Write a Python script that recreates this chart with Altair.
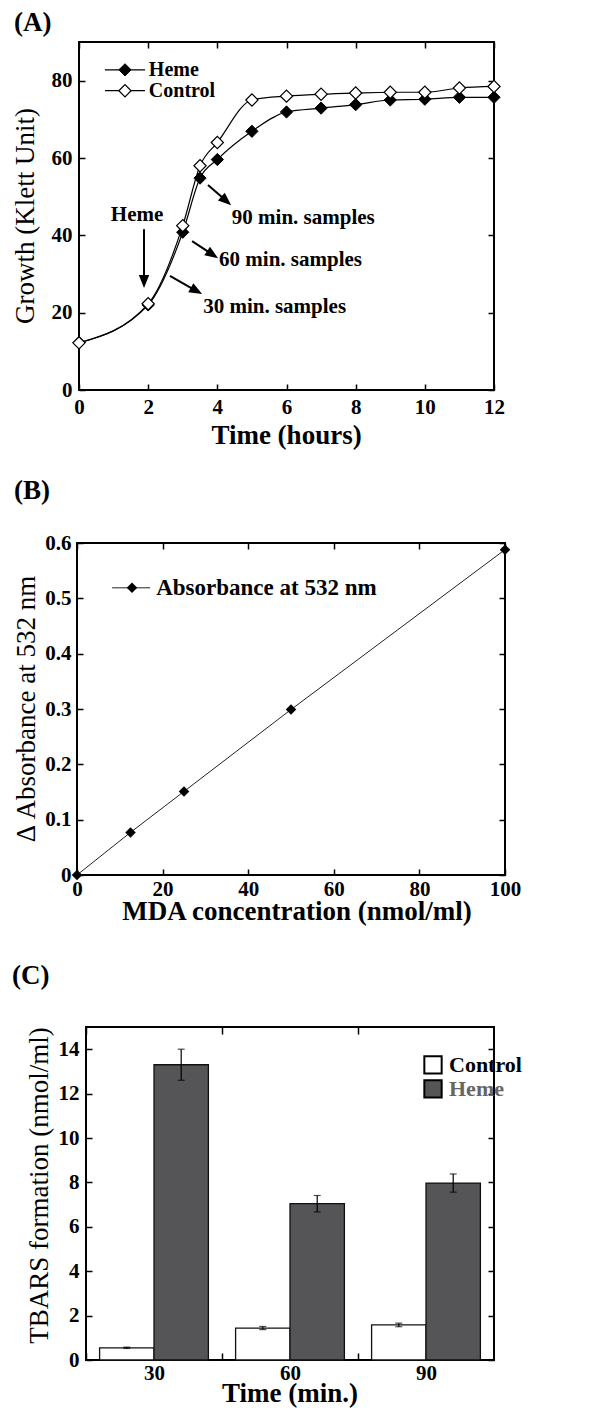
import math
import altair as alt
import pandas as pd

FONT = "Liberation Serif"

# ---------------- Panel A data ----------------
hours = [0, 2, 3, 3.5, 4, 5, 6, 7, 8, 9, 10, 11, 12]
heme_growth = [12.2, 22.0, 40.8, 54.8, 59.6, 66.9, 71.9, 72.9, 73.8, 75.0, 75.2, 75.7, 75.7]
control_growth = [12.2, 22.3, 42.5, 58.0, 64.0, 75.0, 76.0, 76.5, 76.8, 77.0, 77.0, 78.1, 78.5]
series_names = ["Heme", "Control"]
hour_ticks = [0, 2, 4, 6, 8, 10, 12]
growth_ticks = [0, 20, 40, 60, 80]

# annotations (data coordinates)
note_text = ["Heme", "90 min. samples", "60 min. samples", "30 min. samples"]
note_x = [1.68, 4.42, 4.05, 3.59]
note_y = [45.3, 44.5, 33.6, 21.5]
arrow_x1 = [1.88, 3.73, 3.27, 2.63]
arrow_y1 = [41.6, 53.0, 38.5, 29.5]
arrow_x2 = [1.88, 4.40, 4.02, 3.56]
arrow_y2 = [26.4, 47.8, 34.1, 24.8]
legendA_y = [82.8, 77.4]
legendA_line = [0.75, 1.91]
legendA_marker = 1.33
legendA_text = 2.02

# ---------------- Panel B data ----------------
mda_conc = [0, 12.5, 25, 50, 100]
absorbance_532 = [0.0, 0.077, 0.151, 0.299, 0.588]
mda_ticks = [0, 20, 40, 60, 80, 100]
abs_ticks = [0, 0.1, 0.2, 0.3, 0.4, 0.5, 0.6]
legendB_label = ["Absorbance at 532 nm"]
legendB_y = 0.519
legendB_line = [8.2, 17.1]
legendB_marker = 12.85
legendB_text = 18.5

# ---------------- Panel C data ----------------
time_min = ["30", "60", "90"]
groups = ["Control", "Heme"]
tbars_control = [0.55, 1.44, 1.58]
tbars_control_err = [0.03, 0.07, 0.08]
tbars_heme = [13.3, 7.04, 7.97]
tbars_heme_err = [0.70, 0.37, 0.41]
tbars_ticks = [0, 2, 4, 6, 8, 10, 12, 14]
legendC_y = [13.29, 12.21]

WA, HA = 415, 348
WB, HB = 428, 332
WC, HC = 408, 333
TICK = 6


def ax(**kw):
    base = dict(labelFont=FONT, labelFontSize=21, labelFontWeight="bold", labelColor="black",
                tickColor="black", tickWidth=1.5, tickSize=TICK, offset=-TICK, domain=False, grid=False,
                labelFlush=False, labelOverlap=False, title=None)
    base.update(kw)
    return alt.Axis(**base)


def free_text(text, dx, dy, size=27, weight="bold", angle=0, align="left"):
    mk = dict(font=FONT, fontSize=size, fontWeight=weight, align=align, baseline="middle", color="black")
    if angle:
        mk["angle"] = angle
    return alt.Chart(pd.DataFrame({"lab": [text]})).mark_text(**mk).encode(
        x=alt.value(dx), y=alt.value(dy), text="lab:N")


# ================= Panel A =================
n = len(hours)
dfA = pd.DataFrame({
    "hours": hours * 2,
    "growth": heme_growth + control_growth,
    "series": ["Heme"] * n + ["Control"] * n,
})
xA = alt.Scale(domain=[0, 12], nice=False, zero=False)
yA = alt.Scale(domain=[0, 90], nice=False, zero=False)
sxA, syA = WA / 12.0, HA / 90.0

linesA = alt.Chart(dfA).mark_line(interpolate="monotone", color="black", strokeWidth=1.2).encode(
    x=alt.X("hours:Q", scale=xA, axis=ax(orient="bottom", values=hour_ticks, labelPadding=6)),
    y=alt.Y("growth:Q", scale=yA, axis=ax(orient="left", values=growth_ticks, labelPadding=7)),
    detail="series:N",
)
mirrorA = alt.Chart(dfA).mark_point(opacity=0).encode(
    x=alt.X("hours:Q", scale=xA, axis=ax(orient="top", values=hour_ticks, labels=False)),
    y=alt.Y("growth:Q", scale=yA, axis=ax(orient="right", values=growth_ticks, labels=False)),
)
hemePts = alt.Chart(dfA).transform_filter(alt.datum.series == "Heme").mark_point(
    shape="diamond", filled=True, fill="black", stroke="black", strokeWidth=1, size=150, opacity=1
).encode(x=alt.X("hours:Q", scale=xA), y=alt.Y("growth:Q", scale=yA))
ctrlPts = alt.Chart(dfA).transform_filter(alt.datum.series == "Control").mark_point(
    shape="diamond", filled=True, fill="white", stroke="black", strokeWidth=1.2, size=150, opacity=1
).encode(x=alt.X("hours:Q", scale=xA), y=alt.Y("growth:Q", scale=yA))

# legend A
dfLegA = pd.DataFrame({"series": series_names, "ly": legendA_y,
                       "lx1": [legendA_line[0]] * 2, "lx2": [legendA_line[1]] * 2,
                       "lxm": [legendA_marker] * 2, "lxt": [legendA_text] * 2})
legLineA = alt.Chart(dfLegA).mark_rule(color="black", strokeWidth=1.2).encode(
    x=alt.X("lx1:Q", scale=xA), x2="lx2:Q", y=alt.Y("ly:Q", scale=yA))
legPtHeme = alt.Chart(dfLegA).transform_filter(alt.datum.series == "Heme").mark_point(
    shape="diamond", filled=True, fill="black", stroke="black", strokeWidth=1, size=150, opacity=1).encode(
    x=alt.X("lxm:Q", scale=xA), y=alt.Y("ly:Q", scale=yA))
legPtCtrl = alt.Chart(dfLegA).transform_filter(alt.datum.series == "Control").mark_point(
    shape="diamond", filled=True, fill="white", stroke="black", strokeWidth=1.2, size=150, opacity=1).encode(
    x=alt.X("lxm:Q", scale=xA), y=alt.Y("ly:Q", scale=yA))
legTxtA = alt.Chart(dfLegA).mark_text(font=FONT, fontSize=20, fontWeight="bold", align="left",
                                      baseline="middle", color="black").encode(
    x=alt.X("lxt:Q", scale=xA), y=alt.Y("ly:Q", scale=yA), text="series:N")

# arrows A
head_len_px = 13.0
angles, sx2, sy2 = [], [], []
for x1, y1, x2, y2 in zip(arrow_x1, arrow_y1, arrow_x2, arrow_y2):
    dx = (x2 - x1) * sxA
    dy = -(y2 - y1) * syA
    angles.append(math.degrees(math.atan2(-dx, dy)) % 360)
    L = math.hypot(dx, dy)
    f = max(0.0, 1 - (head_len_px * 0.6) / L)
    sx2.append(x1 + (x2 - x1) * f)
    sy2.append(y1 + (y2 - y1) * f)
dfArr = pd.DataFrame({"x1": arrow_x1, "y1": arrow_y1, "x2": arrow_x2, "y2": arrow_y2,
                      "sx2": sx2, "sy2": sy2, "ang": angles})
shaftA = alt.Chart(dfArr).mark_rule(color="black", strokeWidth=2).encode(
    x=alt.X("x1:Q", scale=xA), y=alt.Y("y1:Q", scale=yA), x2="sx2:Q", y2="sy2:Q")
headA = alt.Chart(dfArr).mark_point(shape="M0,0L-0.4,-1L0.4,-1Z", filled=True, color="black", opacity=1,
                                    size=(2 * head_len_px) ** 2).encode(
    x=alt.X("x2:Q", scale=xA), y=alt.Y("y2:Q", scale=yA), angle=alt.Angle("ang:Q", scale=None))
dfNote = pd.DataFrame({"t": note_text, "nx": note_x, "ny": note_y})
noteCenter = alt.Chart(dfNote.iloc[:1]).mark_text(font=FONT, fontSize=21, fontWeight="bold", align="center",
                                                  baseline="middle", color="black").encode(
    x=alt.X("nx:Q", scale=xA), y=alt.Y("ny:Q", scale=yA), text="t:N")
noteLeft = alt.Chart(dfNote.iloc[1:]).mark_text(font=FONT, fontSize=21, fontWeight="bold", align="left",
                                                baseline="middle", color="black").encode(
    x=alt.X("nx:Q", scale=xA), y=alt.Y("ny:Q", scale=yA), text="t:N")

innerA = alt.layer(
    linesA, hemePts, ctrlPts, legLineA, legPtHeme, legPtCtrl, legTxtA, shaftA, headA, noteCenter, noteLeft,
    free_text("(A)", -65, -19),
    free_text("Time (hours)", WA / 2, HA + 46, size=27, align="center"),
    free_text("Growth (Klett Unit)", -53, HA / 2, size=27, weight="normal", angle=270, align="center"),
)
chartA = alt.layer(innerA, mirrorA).properties(width=WA, height=HA)

# ================= Panel B =================
dfB = pd.DataFrame({"mda": mda_conc, "abs": absorbance_532})
xB = alt.Scale(domain=[0, 100], nice=False, zero=False)
yB = alt.Scale(domain=[0, 0.6], nice=False, zero=False)
lineB = alt.Chart(dfB).mark_line(color="#222222", strokeWidth=1).encode(
    x=alt.X("mda:Q", scale=xB, axis=ax(orient="bottom", values=mda_ticks, labelPadding=3)),
    y=alt.Y("abs:Q", scale=yB, axis=ax(orient="left", values=abs_ticks, labelPadding=6,
                                        labelExpr="datum.value == 0 ? '0' : format(datum.value, '.1f')")),
)
mirrorB = alt.Chart(dfB).mark_point(opacity=0).encode(
    x=alt.X("mda:Q", scale=xB, axis=ax(orient="top", values=mda_ticks, labels=False)),
    y=alt.Y("abs:Q", scale=yB, axis=ax(orient="right", values=abs_ticks, labels=False)),
)
ptsB = alt.Chart(dfB).mark_point(shape="diamond", filled=True, color="black", size=110, opacity=1).encode(
    x=alt.X("mda:Q", scale=xB), y=alt.Y("abs:Q", scale=yB))
dfLegB = pd.DataFrame({"lab": legendB_label, "ly": [legendB_y], "lx1": [legendB_line[0]],
                       "lx2": [legendB_line[1]], "lxm": [legendB_marker], "lxt": [legendB_text]})
legLineB = alt.Chart(dfLegB).mark_rule(color="#222222", strokeWidth=1).encode(
    x=alt.X("lx1:Q", scale=xB), x2="lx2:Q", y=alt.Y("ly:Q", scale=yB))
legPtB = alt.Chart(dfLegB).mark_point(shape="diamond", filled=True, color="black", size=110, opacity=1).encode(
    x=alt.X("lxm:Q", scale=xB), y=alt.Y("ly:Q", scale=yB))
legTxtB = alt.Chart(dfLegB).mark_text(font=FONT, fontSize=23, fontWeight="bold", align="left",
                                      baseline="middle", color="black").encode(
    x=alt.X("lxt:Q", scale=xB), y=alt.Y("ly:Q", scale=yB), text="lab:N")
innerB = alt.layer(
    lineB, ptsB, legLineB, legPtB, legTxtB,
    free_text("(B)", -63, -52),
    free_text("MDA concentration (nmol/ml)", WB / 2 + 6, HB + 37, size=27, align="center"),
    free_text("\u0394 Absorbance at 532 nm", -50, HB / 2, size=27, weight="normal", angle=270, align="center"),
)
chartB = alt.layer(innerB, mirrorB).properties(width=WB, height=HB)

# ================= Panel C =================
dfC = pd.DataFrame({
    "time": time_min * 2,
    "group": ["Control"] * 3 + ["Heme"] * 3,
    "value": tbars_control + tbars_heme,
    "err": tbars_control_err + tbars_heme_err,
})
dfC["lo"] = dfC["value"] - dfC["err"]
dfC["hi"] = dfC["value"] + dfC["err"]
p_in, p_out = 0.2, 0.1
step = WC / (len(time_min) - p_in + 2 * p_out)
xC = alt.Scale(domain=time_min, paddingInner=p_in, paddingOuter=p_out)
xoC = alt.Scale(domain=groups, paddingInner=0, paddingOuter=0)
yC = alt.Scale(domain=[0, 15], nice=False, zero=False)
fillC = alt.Scale(domain=groups, range=["white", "#555558"])

barsC = alt.Chart(dfC).mark_bar(stroke="#111111", strokeWidth=1.3).encode(
    x=alt.X("time:N", scale=xC, sort=time_min,
            axis=ax(orient="bottom", labelAngle=0, bandPosition=0, tickOffset=-p_in * step / 2,
                    labelOffset=p_in * step / 2, tickSize=7, offset=-7, labelPadding=2)),
    xOffset=alt.XOffset("group:N", scale=xoC),
    y=alt.Y("value:Q", scale=yC, axis=ax(orient="left", values=tbars_ticks, labelPadding=7)),
    fill=alt.Fill("group:N", scale=fillC, legend=None),
)
mirrorC = alt.Chart(dfC).mark_point(opacity=0).encode(
    x=alt.X("time:N", scale=xC, sort=time_min,
            axis=ax(orient="top", labels=False, bandPosition=0, tickOffset=-p_in * step / 2,
                    tickSize=7, offset=-7)),
    xOffset=alt.XOffset("group:N", scale=xoC),
    y=alt.Y("value:Q", scale=yC, axis=ax(orient="right", values=tbars_ticks, labels=False)),
)
errC = alt.Chart(dfC).mark_rule(color="black", strokeWidth=1.2).encode(
    x=alt.X("time:N", scale=xC, sort=time_min), xOffset=alt.XOffset("group:N", scale=xoC),
    y=alt.Y("lo:Q", scale=yC), y2="hi:Q")
capLo = alt.Chart(dfC).mark_tick(color="black", thickness=1.2, size=7).encode(
    x=alt.X("time:N", scale=xC, sort=time_min), xOffset=alt.XOffset("group:N", scale=xoC),
    y=alt.Y("lo:Q", scale=yC))
capHi = alt.Chart(dfC).mark_tick(color="black", thickness=1.2, size=7).encode(
    x=alt.X("time:N", scale=xC, sort=time_min), xOffset=alt.XOffset("group:N", scale=xoC),
    y=alt.Y("hi:Q", scale=yC))

dfLegC = pd.DataFrame({"group": groups, "ly": legendC_y})
legBoxC = alt.Chart(dfLegC).mark_square(size=300, stroke="black", strokeWidth=2, opacity=1).encode(
    x=alt.value(347), y=alt.Y("ly:Q", scale=yC),
    fill=alt.Fill("group:N", scale=fillC, legend=None))
legTxtC = alt.Chart(dfLegC).mark_text(font=FONT, fontSize=22, fontWeight="bold", align="left",
                                      baseline="middle").encode(
    x=alt.value(363), y=alt.Y("ly:Q", scale=yC), text="group:N",
    color=alt.Color("group:N", scale=alt.Scale(domain=groups, range=["black", "#666666"]), legend=None))

innerC = alt.layer(
    barsC, errC, capLo, capHi, legBoxC, legTxtC,
    free_text("(C)", -74, -51),
    free_text("Time (min.)", WC / 2, HC + 34, size=27, align="center"),
    free_text("TBARS formation (nmol/ml)", -46, HC / 2 - 8, size=27, weight="normal", angle=270,
              align="center"),
)
chartC = alt.layer(innerC, mirrorC).properties(width=WC, height=HC)


def spacer(w):
    return alt.Chart(pd.DataFrame({"s": [0]})).transform_filter("false").mark_point(opacity=0).properties(
        width=w, height=1, view=alt.ViewBackground(stroke="transparent"))


rowA = alt.hconcat(spacer(1), chartA, spacing=0)
rowB = alt.hconcat(spacer(1), chartB, spacing=0)
rowC = alt.hconcat(spacer(1), chartC, spacing=0)

top2 = alt.vconcat(rowA, rowB, spacing=26)
chart = alt.vconcat(top2, rowC, spacing=35).properties(
    padding=0
).configure_view(
    stroke="black", strokeWidth=2
).configure_axis(
    labelFont=FONT, labelColor="black"
)

chart.save("out.html", embed_options={"renderer": "svg", "actions": False})
